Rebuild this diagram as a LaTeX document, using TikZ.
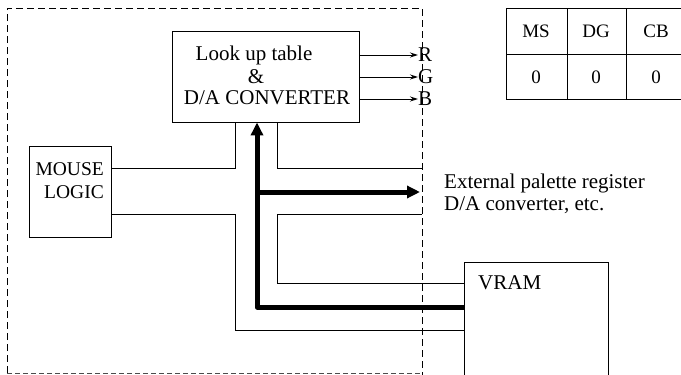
\documentclass[tikz,border=0pt]{standalone}
\usepackage{fontspec}
\setmainfont{Liberation Serif}
\usetikzlibrary{arrows.meta}
\tikzset{
  thinline/.style={line width=0.9pt, line join=miter},
  thickline/.style={line width=5pt, line join=round},
  framebox/.style={line width=0.9pt, dash pattern=on 7pt off 4pt},
  blockbox/.style={draw, line width=0.9pt, inner sep=0pt},
  txt/.style={inner sep=0pt, font=\fontsize{21}{22.5}\selectfont},
  tabtxt/.style={inner sep=0pt, font=\fontsize{19}{21}\selectfont},
  thinarrow/.style={thinline, -{Stealth[length=8pt,width=5pt]}},
  thickarrow/.style={thickline, -{Triangle[length=13pt,width=12pt]}}
}
\begin{document}
\begin{tikzpicture}[x=1pt,y=-1pt]
\useasboundingbox (0,0) rectangle (681,375);
\clip (0,0) rectangle (681,375);
% dashed frame
\draw[framebox] (7,373) -- (7,8) -- (422,8) -- (422,376);
\draw[line width=0.8pt, dash pattern=on 5pt off 3pt, black!70] (7,373) -- (422,373);
\coordinate (fr) at (422,0);
% blocks
\node[blockbox, minimum width=187pt, minimum height=91pt] (lut) at (265.5,76.5) {};
\node[txt] (lutA) at (254,55) {Look up table};
\node[txt] (lutB) at (256,77) {\&};
\node[txt] (lutC) at (267,98) {D/A CONVERTER};
\node[blockbox, minimum width=82pt, minimum height=91pt] (mouse) at (70,191.5) {};
\node[txt, font=\fontsize{19.5}{22.5}\selectfont, align=right, anchor=east] (mouset) at (104,180.5) {MOUSE\\LOGIC};
\node[blockbox, minimum width=144pt, minimum height=140pt, anchor=north west] (vram) at (464,262) {};
\node[txt, anchor=west] (vramt) at (478,283) {VRAM};
% RGB
\node[txt, anchor=west] (r) at (418,55) {R};
\node[txt, anchor=west] (g) at (418,77) {G};
\node[txt, anchor=west] (b) at (418,99) {B};
\draw[thinarrow] (lut.east |- r.west) -- (r.west);
\draw[thinarrow] (lut.east |- g.west) -- (g.west);
\draw[thinarrow] (lut.east |- b.west) -- (b.west);
% external text
\node[txt, align=left, anchor=west] (ext) at (444,194) {External palette register\\D/A converter, etc.};
% thin connectors
\coordinate (c1) at (235,168);
\draw[thinline] (c1 -| mouse.east) -- (c1) -- (c1 |- lut.south);
\coordinate (c2) at (277,168);
\draw[thinline] (c2 |- lut.south) -- (c2) -- (c2 -| fr);
\coordinate (p3) at (422,214);
\coordinate (c3) at (277,283);
\draw[thinline] (p3) -| (c3) -- (c3 -| vram.west);
\coordinate (c4a) at (235,214);
\coordinate (c4) at (235,330);
\draw[thinline] (c4a -| mouse.east) -- (c4a) -- (c4) -- (c4 -| vram.west);
% thick buses
\coordinate (t1) at (257,307);
\coordinate (t2) at (257,192);
\coordinate (te) at (420,192);
\draw[thickarrow] (t1 -| vram.west) -- (t1) -- (t1 |- lut.south);
\draw[thickarrow] (t2) -- (te);
% table
\draw[thinline] (681,8) -- (506,8) -- (506,99) -- (681,99);
\draw[thinline] (506,54) -- (681,54);
\draw[thinline] (567,8) -- (567,99);
\draw[thinline] (626,8) -- (626,99);
\node[tabtxt] (ms) at (536,31) {MS};
\node[tabtxt] (dg) at (596,31) {DG};
\node[tabtxt] (cb) at (656,31) {CB};
\node[tabtxt] (z1) at (536,77) {0};
\node[tabtxt] (z2) at (596,77) {0};
\node[tabtxt] (z3) at (656,77) {0};
\end{tikzpicture}
\end{document}
